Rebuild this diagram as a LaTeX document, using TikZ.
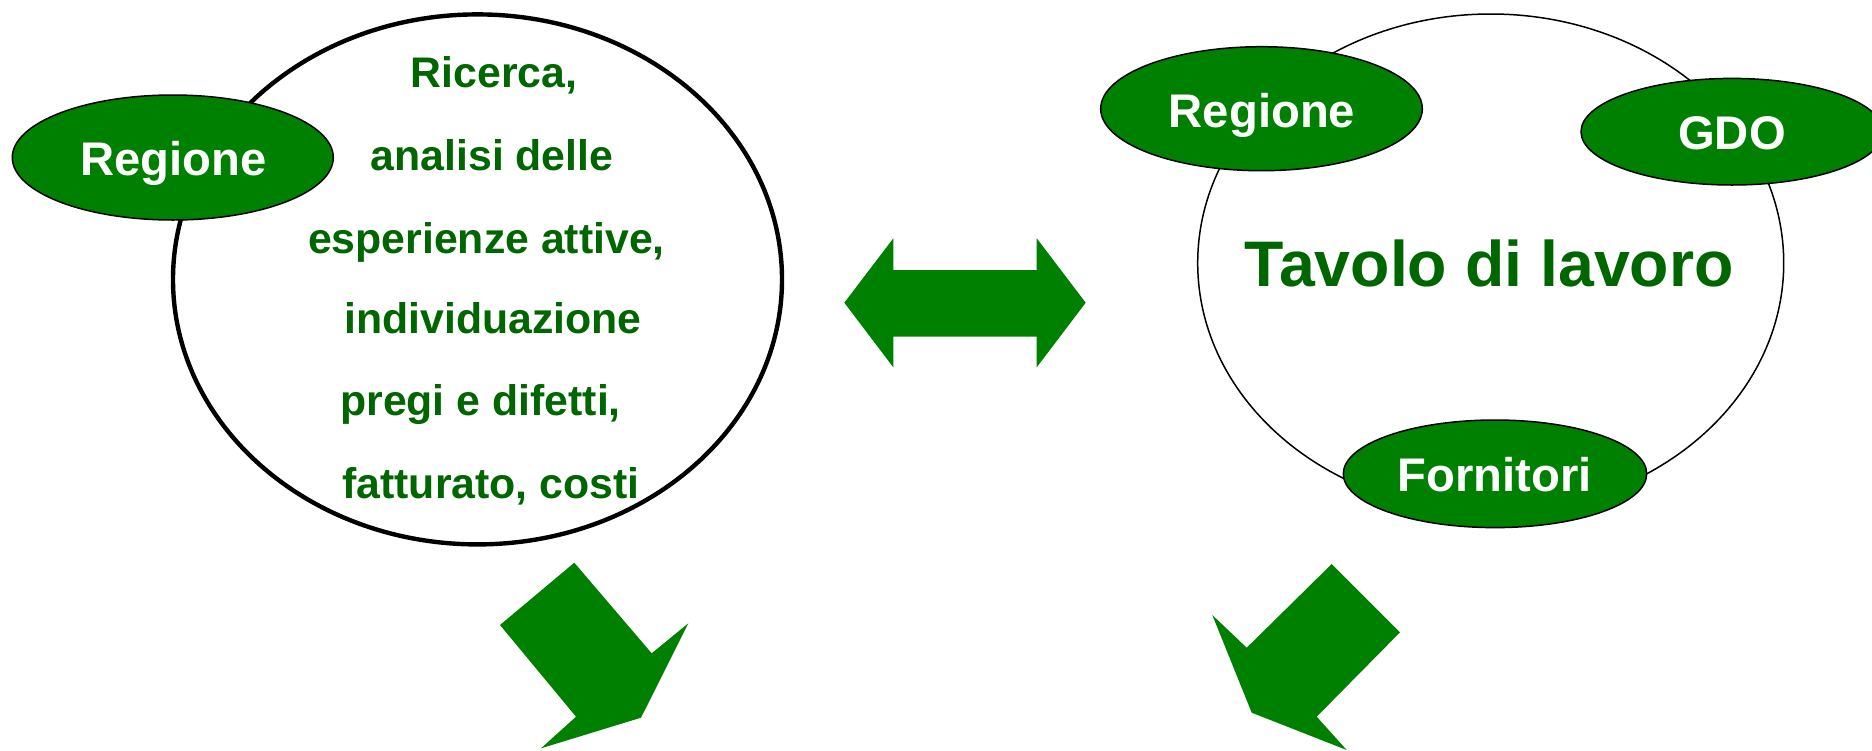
\documentclass[tikz,border=0pt]{standalone}
\usepackage{fontspec}
\setmainfont{Liberation Sans}
\usetikzlibrary{shapes.geometric}
\definecolor{fillgreen}{HTML}{008000}
\definecolor{textgreen}{HTML}{006600}
\tikzset{
  bigoval/.style={ellipse, draw=black, fill=white, inner sep=0pt},
  pill/.style={ellipse, draw=black, line width=0.75pt, fill=fillgreen, inner sep=0pt},
  pilltext/.style={anchor=base, text=white, inner sep=0pt, font=\bfseries\fontsize{23.6}{28}\selectfont},
  bodytext/.style={anchor=base, text=textgreen, inner sep=0pt, font=\bfseries\fontsize{21.4}{25}\selectfont},
  titletext/.style={anchor=base, text=textgreen, inner sep=0pt, font=\bfseries\fontsize{32.2}{38}\selectfont},
  blockarrow/.style={fill=fillgreen, draw=none},
}
\begin{document}
\begin{tikzpicture}[x=0.5pt,y=-0.5pt]
\useasboundingbox (0,0) rectangle (1872,750);
\fill[white] (0,0) rectangle (1872,750);

% left big oval
\node[bigoval, line width=2.2pt, minimum width=304.5pt, minimum height=265pt] (left) at (477.5,279.4) {};
\node[pill, minimum width=160.5pt, minimum height=62.5pt] (regL) at (172.8,157.5) {};
\node[pilltext] (regLt) at (173.3,175) {Regione};
\node[bodytext] (t1) at (494,87.7) {Ricerca,};
\node[bodytext] (t2) at (492,170) {analisi delle};
\node[bodytext] (t3) at (486.5,253) {esperienze attive,};
\node[bodytext] (t4) at (493,333.3) {individuazione};
\node[bodytext] (t5) at (480.5,415) {pregi e difetti,};
\node[bodytext] (t6) at (491,498) {fatturato, costi};

% right big oval
\node[bigoval, line width=0.75pt, minimum width=293pt, minimum height=249pt] (right) at (1490.7,263) {};
\node[titletext] (tav) at (1489,286.7) {Tavolo di lavoro};
\node[pill, minimum width=160.8pt, minimum height=62pt] (regR) at (1261.5,108.7) {};
\node[pilltext] (regRt) at (1262,127.3) {Regione};
\node[pill, minimum width=151pt, minimum height=53.3pt] (gdo) at (1732,131.7) {};
\node[pilltext] (gdot) at (1732,149.3) {GDO};
\node[pill, minimum width=151.7pt, minimum height=53.8pt] (forn) at (1495,473.8) {};
\node[pilltext] (fornt) at (1494.7,491.7) {Fornitori};

% double arrow
\fill[blockarrow] (844.3,302.7) -- (893.3,238.3) -- (893.3,270) -- (1036.7,270)
  -- (1036.7,238.3) -- (1085.7,302.7) -- (1036.7,367.3) -- (1036.7,336.7)
  -- (893.3,336.7) -- (893.3,367.3) -- cycle;

% down-right arrow
\fill[blockarrow] (574.3,562.7) -- (651.7,653.3) -- (688.3,623.3) -- (641,717.7)
  -- (541,748.3) -- (576,716.7) -- (500,625) -- cycle;

% down-left arrow
\fill[blockarrow] (1331.7,564) -- (1400,632.3) -- (1316.7,716.7) -- (1346.7,750)
  -- (1251.7,712.7) -- (1212.3,615) -- (1246.7,647.7) -- cycle;
\end{tikzpicture}
\end{document}
